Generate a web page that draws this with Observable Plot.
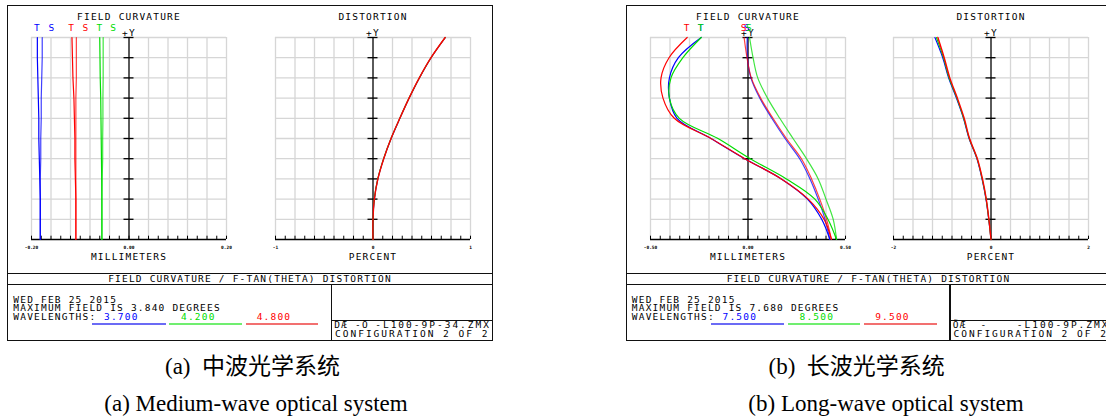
<!DOCTYPE html>
<html><head><meta charset="utf-8">
<script src="https://cdn.jsdelivr.net/npm/d3@7"></script>
<script src="https://cdn.jsdelivr.net/npm/@observablehq/plot@0.6"></script>
<style>
body{margin:0;background:#fff}
#root{position:relative;width:1106px;height:418px;overflow:hidden;background:#fff}
.abs{position:absolute}
.zt{font-family:"DejaVu Sans Mono",monospace;font-size:9.5px;letter-spacing:1.2px;line-height:8.3px;white-space:pre;color:#000}
.cap{font-family:"Liberation Serif","Times New Roman","Noto Sans CJK SC",serif;font-size:23px;line-height:23px;color:#000;white-space:pre;text-align:center}
</style></head><body><div id="root"></div><script>
// ---------- data ----------
const fields = [0, 0.1, 0.2, 0.3, 0.4, 0.5, 0.6, 0.7, 0.8, 0.9, 1.0];
const seriesColors = ["#0000ff", "#00dd00", "#ff0000"]; // blue, green, red wavelength
const labelText = ["T", "S", "T", "S", "T", "S"];

// (a) medium-wave
const aDate = "WED FEB 25 2015";
const aMaxField = "MAXIMUM FIELD IS 3.840 DEGREES";
const aWavelengths = ["3.700", "4.200", "4.800"];
const aFileLeft = "DÆ -Ö";
const aFileName = "-L100-9P-34.ZMX";
const aFcDomain = [-0.2, 0.2];
const aFcTicks = ["-0.20", "0.00", "0.20"];
const aDistDomain = [-1, 1];
const aDistTicks = ["-1", "0", "1"];
const aFcBlueT  = [-0.182, -0.182, -0.182, -0.183, -0.184, -0.185, -0.185, -0.186, -0.187, -0.188, -0.188];
const aFcBlueS  = [-0.182, -0.182, -0.182, -0.182, -0.181, -0.181, -0.180, -0.180, -0.179, -0.178, -0.178];
const aFcGreenT = [-0.0556, -0.0556, -0.0557, -0.056, -0.0565, -0.057, -0.0575, -0.058, -0.059, -0.0595, -0.060];
const aFcGreenS = [-0.0556, -0.0556, -0.0555, -0.055, -0.054, -0.054, -0.0535, -0.0535, -0.053, -0.053, -0.053];
const aFcRedT   = [-0.109, -0.109, -0.109, -0.110, -0.111, -0.111, -0.112, -0.113, -0.115, -0.116, -0.117];
const aFcRedS   = [-0.109, -0.109, -0.109, -0.109, -0.109, -0.109, -0.109, -0.109, -0.108, -0.108, -0.108];
const aDistBlue  = [0, 0, 0.014, 0.05, 0.11, 0.186, 0.276, 0.371, 0.476, 0.596, 0.742];
const aDistGreen = [0, 0, 0.013, 0.049, 0.109, 0.185, 0.275, 0.37, 0.475, 0.595, 0.741];
const aDistRed   = [0, 0, 0.014, 0.05, 0.11, 0.185, 0.275, 0.37, 0.475, 0.595, 0.74];
const aLabelX = [-0.188, -0.158, -0.0598, -0.0312, -0.1176, -0.0884]; // blue T,S green T,S red T,S

// (b) long-wave
const bDate = "WED FEB 25 2015";
const bMaxField = "MAXIMUM FIELD IS 7.680 DEGREES";
const bWavelengths = ["7.500", "8.500", "9.500"];
const bFileLeft = "ÕÆ  -";
const bFileName = "-L100-9P.ZMX";
const bFcDomain = [-0.5, 0.5];
const bFcTicks = ["-0.50", "0.00", "0.50"];
const bDistDomain = [-2, 2];
const bDistTicks = ["-2", "0", "2"];
const bFcBlueT  = [0.42, 0.378, 0.305, 0.171, -0.017, -0.19, -0.364, -0.403, -0.403, -0.357, -0.24];
const bFcBlueS  = [0.42, 0.395, 0.36, 0.318, 0.265, 0.19, 0.122, 0.06, 0.015, -0.003, -0.004];
const bFcGreenT = [0.454, 0.41, 0.343, 0.197, 0.012, -0.154, -0.352, -0.403, -0.395, -0.334, -0.24];
const bFcGreenS = [0.454, 0.437, 0.40, 0.36, 0.30, 0.231, 0.163, 0.10, 0.05, 0.026, 0.008];
const bFcRedT   = [0.428, 0.39, 0.309, 0.171, -0.017, -0.19, -0.378, -0.436, -0.446, -0.405, -0.312];
const bFcRedS   = [0.428, 0.403, 0.368, 0.326, 0.274, 0.197, 0.128, 0.065, 0.017, -0.005, -0.02];
const bDistBlue  = [0, -0.047, -0.103, -0.185, -0.29, -0.45, -0.565, -0.71, -0.87, -0.99, -1.15];
const bDistGreen = [0, -0.045, -0.1, -0.18, -0.285, -0.445, -0.56, -0.70, -0.86, -0.975, -1.12];
const bDistRed   = [0, -0.043, -0.097, -0.175, -0.28, -0.44, -0.55, -0.69, -0.845, -0.96, -1.09];
const bLabelX = [-0.24, -0.004, -0.24, 0.008, -0.312, -0.02];

const captions = [
  ["(a)  中波光学系统", "(a) Medium-wave optical system"],
  ["(b)  长波光学系统", "(b) Long-wave optical system"]
];

// ---------- drawing ----------
const root = document.getElementById("root");
function div(style, text, cls) {
  const d = document.createElement("div");
  d.className = "abs " + (cls || "");
  Object.assign(d.style, style);
  if (text != null) d.textContent = text;
  root.appendChild(d);
  return d;
}
const px = v => v + "px";

function subplot(o) {
  const W = 195, H = 202, mL = 30, mR = 15, mT = 35, mB = 30;
  const [d0, d1] = o.domain, span = d1 - d0;
  const gx = d3.range(11).map(i => d0 + i * span / 10);
  const gy = d3.range(11).map(i => i / 10);
  const mx = d3.range(21).map(i => d0 + i * span / 20);
  const half = 5 / W * span;
  const mlen = 3.3 / H;
  const marks = [
    Plot.ruleX(gx, {stroke: "#d6d6d6", strokeWidth: 1.3}),
    Plot.ruleY(gy.slice(1), {stroke: "#d6d6d6", strokeWidth: 1.3}),
    Plot.ruleX([0], {stroke: "#5a5a5a", strokeWidth: 2}),
    Plot.ruleY(gy.slice(1), {x1: -half, x2: half, stroke: "#000", strokeWidth: 1.3}),
    Plot.ruleY([0], {stroke: "#000", strokeWidth: 1.3}),
    Plot.ruleX(mx, {y1: 0, y2: mlen, stroke: "#000", strokeWidth: 1})
  ];
  for (const s of o.series) {
    marks.push(Plot.line(fields.map((f, i) => ({f, v: s.values[i]})),
      {x: "v", y: "f", stroke: s.color, strokeWidth: s.width || 1.2, strokeOpacity: s.opacity, curve: o.curve}));
  }
  const tickPos = [d0, 0, d1];
  marks.push(Plot.text(o.ticks.map((t, i) => ({t, v: tickPos[i]})),
    {x: "v", text: "t", frameAnchor: "bottom", dy: 9, fontSize: 4.5, fontWeight: "bold"}));
  marks.push(Plot.text([o.label], {x: 0, frameAnchor: "bottom", dy: 20}));
  marks.push(Plot.text([o.title], {x: 0, frameAnchor: "top", dy: -24.7}));
  marks.push(Plot.text(["+Y"], {x: 0, frameAnchor: "top", dy: -8}));
  if (o.labels) {
    marks.push(Plot.text(o.labels, {x: "x", text: "t", fill: "c", frameAnchor: "top", dy: -13}));
  }
  const svg = Plot.plot({
    width: mL + W + mR, height: mT + H + mB,
    marginLeft: mL, marginRight: mR, marginTop: mT, marginBottom: mB,
    x: {domain: o.domain, axis: null},
    y: {domain: [0, 1], axis: null},
    style: {background: "transparent", fontFamily: "DejaVu Sans Mono, monospace", fontSize: "9.5px", letterSpacing: "1.2px", overflow: "visible"},
    marks
  });
  svg.querySelectorAll('g[font-size="4.5"]').forEach(g => g.setAttribute("letter-spacing", "0"));
  svg.style.position = "absolute";
  svg.style.left = px(o.frameLeft - mL);
  svg.style.top = px(37 - mT);
  root.appendChild(svg);
}

function panel(P) {
  const ox = P.ox;
  div({left: px(ox + 7), top: "4.5px", width: "486px", height: "336px", border: "1.5px solid #111", boxSizing: "border-box"});
  div({left: px(ox + 7), top: "272.5px", width: "486px", height: "1.5px", background: "#111"});
  div({left: px(ox + 7), top: "283.5px", width: "486px", height: "1.5px", background: "#111"});
  div({left: px(ox + 330.5), top: "283.5px", width: "1.5px", height: "56px", background: "#111"});
  div({left: px(ox + 330.5), top: "319.8px", width: "162px", height: "1.5px", background: "#111"});
  div({left: px(ox + 7), top: "275px", width: "486px", textAlign: "center"}, "FIELD CURVATURE / F-TAN(THETA) DISTORTION", "zt");
  div({left: px(ox + 13.3), top: "296px"}, P.date, "zt");
  div({left: px(ox + 13.3), top: "304.3px"}, P.maxField, "zt");
  div({left: px(ox + 13.3), top: "312.7px"}, "WAVELENGTHS:", "zt");
  const wlLeft = [104, 181, 256.7], ulLeft = [92, 169.3, 245.7], ulW = [73.7, 72.4, 72.6];
  const ulColors = ["#6b6bf5", "#70ee70", "#f27070"];
  P.wavelengths.forEach((w, i) => {
    div({left: px(ox + wlLeft[i]), top: "312.7px", color: seriesColors[i]}, w, "zt");
    div({left: px(ox + ulLeft[i]), top: "323.3px", width: px(ulW[i]), height: "2px", background: ulColors[i]});
  });
  div({left: px(ox + 334.3), top: "321px", letterSpacing: "1.2px"}, P.fileLeft, "zt");
  div({left: px(ox + 373), top: "321px", width: "118px", textAlign: "right", letterSpacing: "2px"}, P.fileName, "zt");
  div({left: px(ox + 335), top: "330px", letterSpacing: "2px"}, "CONFIGURATION 2 OF 2", "zt");

  const fcSeries = [
    {values: P.fc[1], color: seriesColors[0], opacity: 0.75},
    {values: P.fc[3], color: seriesColors[1], opacity: 0.75},
    {values: P.fc[5], color: seriesColors[2], opacity: 0.75},
    {values: P.fc[0], color: seriesColors[0], opacity: 1},
    {values: P.fc[2], color: seriesColors[1], opacity: 1},
    {values: P.fc[4], color: seriesColors[2], opacity: 1}
  ];
  const labels = labelText.map((t, i) => ({t, x: P.labelX[i], c: seriesColors[Math.floor(i / 2)]}));
  subplot({frameLeft: P.fcLeft, domain: P.fcDomain, ticks: P.fcTicks, label: "MILLIMETERS",
    title: "FIELD CURVATURE", series: fcSeries, labels, curve: P.fcCurve});
  const distSeries = P.dist.map((v, i) => ({values: v, color: seriesColors[i], opacity: 1, width: i === 2 ? 1.4 : 1.1}));
  subplot({frameLeft: P.distLeft, domain: P.distDomain, ticks: P.distTicks, label: "PERCENT",
    title: "DISTORTION", series: distSeries, curve: "catmull-rom"});
}

panel({ox: 0, fcLeft: 31, distLeft: 274.5, date: aDate, maxField: aMaxField, wavelengths: aWavelengths,
  fileLeft: aFileLeft, fileName: aFileName, fcDomain: aFcDomain, fcTicks: aFcTicks, distDomain: aDistDomain,
  distTicks: aDistTicks, fc: [aFcBlueT, aFcBlueS, aFcGreenT, aFcGreenS, aFcRedT, aFcRedS],
  dist: [aDistBlue, aDistGreen, aDistRed], labelX: aLabelX, fcCurve: "linear"});
panel({ox: 618.5, fcLeft: 649.5, distLeft: 892.5, date: bDate, maxField: bMaxField, wavelengths: bWavelengths,
  fileLeft: bFileLeft, fileName: bFileName, fcDomain: bFcDomain, fcTicks: bFcTicks, distDomain: bDistDomain,
  distTicks: bDistTicks, fc: [bFcBlueT, bFcBlueS, bFcGreenT, bFcGreenS, bFcRedT, bFcRedS],
  dist: [bDistBlue, bDistGreen, bDistRed], labelX: bLabelX, fcCurve: "catmull-rom"});

// captions
const capCenters = [[252.5, 256], [856.7, 886]];
captions.forEach((c, i) => {
  div({left: px(capCenters[i][0] - 200), top: "354.7px", width: "400px"}, c[0], "cap");
  div({left: px(capCenters[i][1] - 200), top: "391.7px", width: "400px"}, c[1], "cap");
});
</script></body></html>
